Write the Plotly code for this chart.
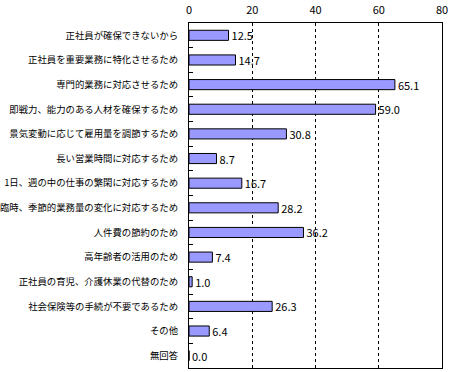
import plotly.graph_objects as go

categories = [
    "正社員が確保できないから",
    "正社員を重要業務に特化させるため",
    "専門的業務に対応させるため",
    "即戦力、能力のある人材を確保するため",
    "景気変動に応じて雇用量を調節するため",
    "長い営業時間に対応するため",
    "1日、週の中の仕事の繁閑に対応するため",
    "臨時、季節的業務量の変化に対応するため",
    "人件費の節約のため",
    "高年齢者の活用のため",
    "正社員の育児、介護休業の代替のため",
    "社会保険等の手続が不要であるため",
    "その他",
    "無回答",
]
values = [12.5, 14.7, 65.1, 59.0, 30.8, 8.7, 16.7, 28.2, 36.2, 7.4, 1.0, 26.3, 6.4, 0.0]
x_ticks = [0, 20, 40, 60, 80]

font_jp = "Noto Sans CJK JP"

fig = go.Figure(go.Bar(
    y=categories,
    x=values,
    orientation="h",
    marker=dict(color="#9999FF", line=dict(color="black", width=1)),
    text=[f"{v:.1f}" for v in values],
    textposition="outside",
    constraintext="none",
    textfont=dict(family=font_jp, size=11, color="black"),
    cliponaxis=False,
    hoverinfo="skip",
))

fig.update_layout(
    width=450, height=372,
    margin=dict(l=189, r=8, t=23, b=4),
    paper_bgcolor="white", plot_bgcolor="white",
    bargap=0.59,
    showlegend=False,
    font=dict(family=font_jp, color="black"),
)
fig.update_xaxes(
    range=[0, 80], side="top", tickvals=x_ticks, automargin=False,
    showgrid=True, gridcolor="black", griddash="dot", gridwidth=1,
    showline=True, linecolor="black", linewidth=1, mirror=True,
    ticks="", tickfont=dict(size=11, family=font_jp), zeroline=False,
    ticklabelstandoff=4,
)
fig.update_yaxes(
    autorange="reversed", categoryorder="array", categoryarray=categories,
    automargin=False,
    showline=True, linecolor="black", linewidth=1, mirror=True,
    ticks="inside", ticklen=4, tickcolor="black", tickson="boundaries",
    tickfont=dict(size=9.4, family=font_jp), ticklabelstandoff=8,
    showgrid=False,
)

fig.write_html(
    "out.html",
    config={"displayModeBar": False},
    post_script="document.body.style.margin='0px';",
)
